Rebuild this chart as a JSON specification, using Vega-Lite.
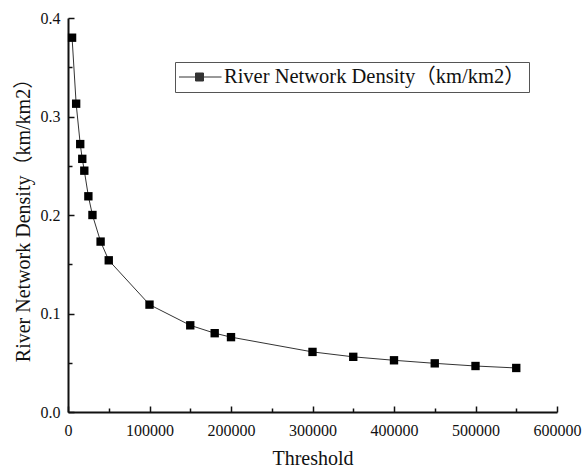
{
  "$schema": "https://vega.github.io/schema/vega-lite/v6.json",
  "width": 489,
  "height": 394,
  "autosize": {"type": "none"},
  "padding": {"left": 68, "top": 18, "right": 26, "bottom": 56},
  "background": "white",
  "config": {
    "view": {"stroke": null},
    "font": "Liberation Serif, Noto Sans CJK SC"
  },
  "data": {
    "values": [
      {"threshold": 5000, "density": 0.380, "series": "River Network Density（km/km2）"},
      {"threshold": 10000, "density": 0.313, "series": "River Network Density（km/km2）"},
      {"threshold": 15000, "density": 0.272, "series": "River Network Density（km/km2）"},
      {"threshold": 17500, "density": 0.257, "series": "River Network Density（km/km2）"},
      {"threshold": 20000, "density": 0.245, "series": "River Network Density（km/km2）"},
      {"threshold": 25000, "density": 0.219, "series": "River Network Density（km/km2）"},
      {"threshold": 30000, "density": 0.200, "series": "River Network Density（km/km2）"},
      {"threshold": 40000, "density": 0.173, "series": "River Network Density（km/km2）"},
      {"threshold": 50000, "density": 0.154, "series": "River Network Density（km/km2）"},
      {"threshold": 100000, "density": 0.109, "series": "River Network Density（km/km2）"},
      {"threshold": 150000, "density": 0.088, "series": "River Network Density（km/km2）"},
      {"threshold": 180000, "density": 0.080, "series": "River Network Density（km/km2）"},
      {"threshold": 200000, "density": 0.076, "series": "River Network Density（km/km2）"},
      {"threshold": 300000, "density": 0.061, "series": "River Network Density（km/km2）"},
      {"threshold": 350000, "density": 0.056, "series": "River Network Density（km/km2）"},
      {"threshold": 400000, "density": 0.0525, "series": "River Network Density（km/km2）"},
      {"threshold": 450000, "density": 0.0494, "series": "River Network Density（km/km2）"},
      {"threshold": 500000, "density": 0.0467, "series": "River Network Density（km/km2）"},
      {"threshold": 550000, "density": 0.0447, "series": "River Network Density（km/km2）"}
    ]
  },
  "mark": {
    "type": "line",
    "strokeWidth": 1,
    "point": {"shape": "square", "filled": true, "size": 70, "fill": "black", "opacity": 1}
  },
  "encoding": {
    "x": {
      "field": "threshold",
      "type": "quantitative",
      "title": "Threshold",
      "scale": {"domain": [0, 600000], "nice": false, "zero": false},
      "axis": {
        "values": [0, 50000, 100000, 150000, 200000, 250000, 300000, 350000, 400000, 450000, 500000, 550000, 600000],
        "format": "d",
        "labelExpr": "datum.value % 100000 === 0 ? datum.label : ''",
        "grid": false,
        "tickSize": {"condition": {"test": "datum.value % 100000 === 0", "value": -6}, "value": -4},
        "tickColor": "#111111",
        "tickWidth": 1.5,
        "domainColor": "#111111",
        "domainWidth": 2,
        "labelPadding": 16,
        "labelFont": "Liberation Serif",
        "labelFontSize": 16,
        "labelColor": "#111111",
        "titleFont": "Liberation Serif",
        "titleFontSize": 20,
        "titleFontWeight": "normal",
        "titleColor": "#111111",
        "titlePadding": 8,
        "labelFlush": false,
        "labelOverlap": false
      }
    },
    "y": {
      "field": "density",
      "type": "quantitative",
      "title": "River Network Density（km/km2）",
      "scale": {"domain": [0, 0.4], "nice": false},
      "axis": {
        "values": [0, 0.05, 0.1, 0.15, 0.2, 0.25, 0.3, 0.35, 0.4],
        "format": ".1f",
        "labelExpr": "round(datum.value * 100) % 10 === 0 ? datum.label : ''",
        "grid": false,
        "tickSize": {"condition": {"test": "round(datum.value * 100) % 10 === 0", "value": -6}, "value": -4},
        "tickColor": "#111111",
        "tickWidth": 1.5,
        "domainColor": "#111111",
        "domainWidth": 2,
        "labelPadding": 14,
        "labelFont": "Liberation Serif",
        "labelFontSize": 16,
        "labelColor": "#111111",
        "titleFont": "Liberation Serif, Noto Sans CJK SC",
        "titleFontSize": 20,
        "titleFontWeight": "normal",
        "titleColor": "#111111",
        "titlePadding": 7,
        "labelFlush": false,
        "labelOverlap": false
      }
    },
    "color": {
      "field": "series",
      "type": "nominal",
      "scale": {"range": ["#333333"]},
      "legend": {
        "title": null,
        "orient": "none",
        "legendX": 107,
        "legendY": 44,
        "strokeColor": "#555555",
        "padding": 4,
        "labelFont": "Liberation Serif, Noto Sans CJK SC",
        "labelFontSize": 20.5,
        "labelColor": "#111111",
        "labelOffset": 4,
        "labelLimit": 0,
        "symbolSize": 1600,
        "symbolStrokeWidth": 1,
        "symbolType": "M-1.15,0H1.1M-0.2,-0.2H0.2V0.2H-0.2Z",
        "clipHeight": 22,
        "encode": {
          "symbols": {
            "update": {
              "fill": {"value": "black"},
              "stroke": {"value": "#333333"}
            }
          }
        }
      }
    }
  }
}
